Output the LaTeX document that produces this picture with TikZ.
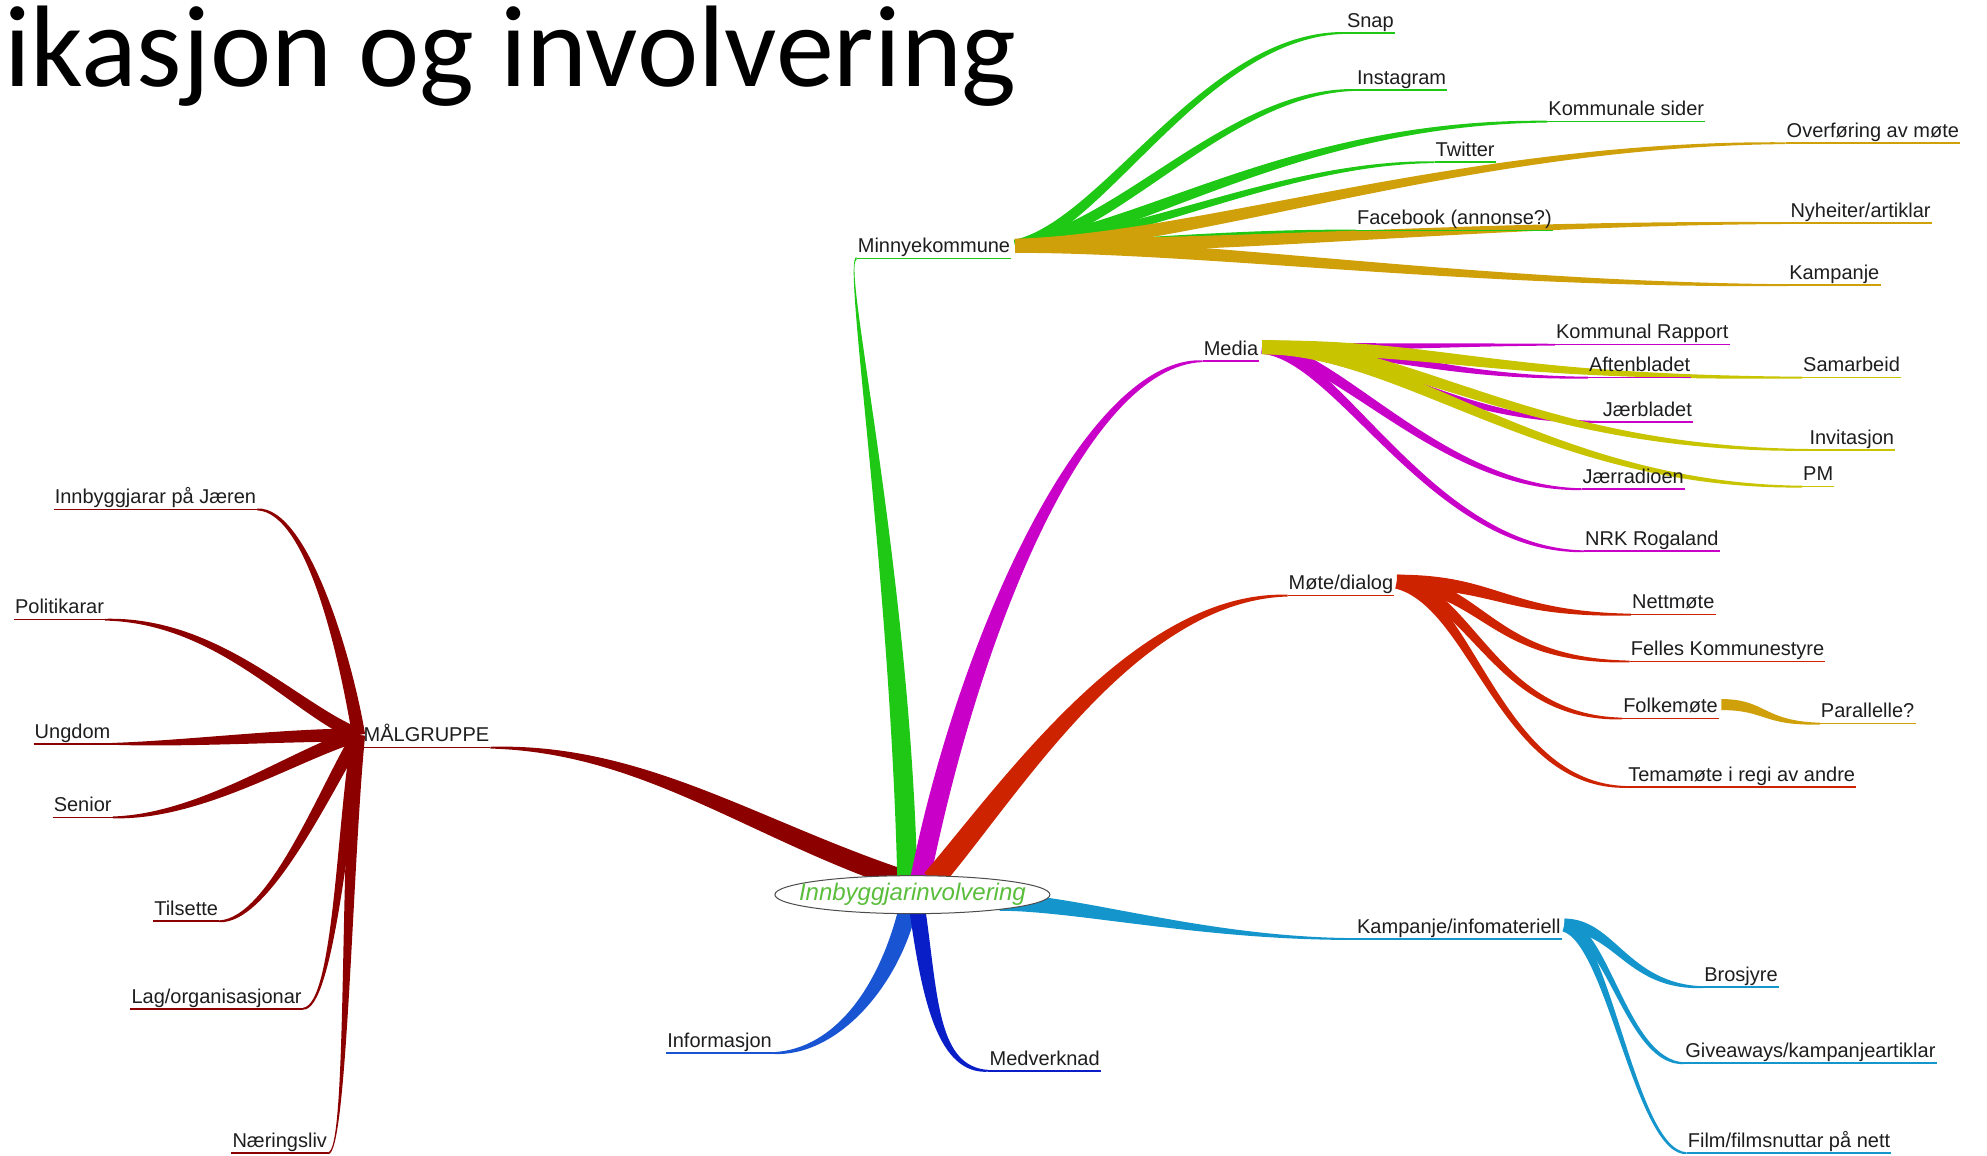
\documentclass[tikz,border=0pt]{standalone}
\usepackage{fontspec}
\setmainfont{Liberation Sans}
\newfontfamily\titlefont{Carlito}
\usetikzlibrary{calc,shapes.geometric,backgrounds}
\definecolor{cgreen}{RGB}{30,200,20}
\definecolor{cgold}{RGB}{208,160,10}
\definecolor{cmag}{RGB}{200,0,200}
\definecolor{colive}{RGB}{200,196,0}
\definecolor{cred}{RGB}{205,35,0}
\definecolor{ccyan}{RGB}{20,150,205}
\definecolor{cblue}{RGB}{25,85,210}
\definecolor{cdblue}{RGB}{10,30,200}
\definecolor{cdred}{RGB}{140,0,0}
\definecolor{ctxtgreen}{RGB}{90,190,60}
\definecolor{ctext}{RGB}{30,30,30}
% tapered branch: #1 P0, #2 offset of P1 from P0, #3 offset of P2 from P3, #4 P3,
% #5 half width at P0/P1, #6 half width at P2, #7 half width at P3, #8 colour
\newcommand\tb[8]{%
 \coordinate (tP0) at (#1);
 \coordinate (tP1) at ($(tP0)+(#2)$);
 \coordinate (tP3) at (#4);
 \coordinate (tP2) at ($(tP3)+(#3)$);
 \coordinate (tA0) at ($(tP0)!#5!90:(tP1)$);
 \coordinate (tB0) at ($(tP0)!#5!-90:(tP1)$);
 \coordinate (tA2) at ($(tP3)!#6!-90:(tP2)$);
 \coordinate (tB2) at ($(tP3)!#6!90:(tP2)$);
 \coordinate (tA3) at ($(tP3)!#7!-90:(tP2)$);
 \coordinate (tB3) at ($(tP3)!#7!90:(tP2)$);
 \fill[#8] (tA0) .. controls ($(tP1)+(tA0)-(tP0)$) and ($(tP2)+(tA2)-(tP3)$) .. (tA3) -- (tB3) .. controls ($(tP2)+(tB2)-(tP3)$) and ($(tP1)+(tB0)-(tP0)$) .. (tB0) -- cycle;
}
\newcommand\ul[2]{\draw[#2, line width=1.6pt] (#1.south west) -- (#1.south east);}
\begin{document}
\begin{tikzpicture}[x=1.2672pt,y=-1.2672pt,
  lbl/.style={font=\fontsize{20}{24}\selectfont, text=ctext, inner xsep=1pt, inner ysep=0.5pt, text height=14.5pt, text depth=5pt},
  lblr/.style={lbl, anchor=south west},
  lbll/.style={lbl, anchor=south east}]
\useasboundingbox (0,0) rectangle (1568,912);

% title
\node[anchor=base west, inner sep=0, font=\titlefont\fontsize{116}{130}\selectfont] (title) at (3,68) {ikasjon og involvering};

% centre
\node[ellipse, draw=black!70, line width=1pt, fill=white, minimum width=275pt, minimum height=38pt, inner sep=0] (cen) at (720,706) {};
\node[font=\itshape\fontsize{24}{28}\selectfont, text=ctxtgreen, inner sep=0] (centxt) at (cen.center) {Innbyggjarinvolvering};

% labels, right facing
\node[lblr] (mink) at (676,204) {Minnyekommune};
\node[lblr] (snap) at (1062,26) {Snap};
\node[lblr] (insta) at (1070,71) {Instagram};
\node[lblr] (komm) at (1221,96) {Kommunale sider};
\node[lblr] (twit) at (1132,128) {Twitter};
\node[lblr] (fb) at (1070,182) {Facebook (annonse?)};
\node[lblr] (overf) at (1409,113) {Overføring av møte};
\node[lblr] (nyh) at (1412,176) {Nyheiter/artiklar};
\node[lblr] (kampj) at (1411,225) {Kampanje};
\node[lblr] (media) at (949,285) {Media};
\node[lblr] (krap) at (1227,272) {Kommunal Rapport};
\node[lblr] (aft) at (1253,298) {Aftenbladet};
\node[lblr] (jaerb) at (1264,333) {Jærbladet};
\node[lblr] (jrad) at (1248,386) {Jærradioen};
\node[lblr] (nrk) at (1250,435) {NRK Rogaland};
\node[lblr] (sam) at (1422,298) {Samarbeid};
\node[lblr] (inv) at (1427,355) {Invitasjon};
\node[lblr] (pm) at (1422,384) {PM};
\node[lblr] (mote) at (1016,470) {Møte/dialog};
\node[lblr] (nett) at (1287,485) {Nettmøte};
\node[lblr] (fell) at (1286,522) {Felles Kommunestyre};
\node[lblr] (folk) at (1280,567) {Folkemøte};
\node[lblr] (tema) at (1284,621) {Temamøte i regi av andre};
\node[lblr] (par) at (1436,571) {Parallelle?};
\node[lblr] (kamp) at (1070,741) {Kampanje/infomateriell};
\node[lblr] (bros) at (1344,779) {Brosjyre};
\node[lblr] (give) at (1329,839) {Giveaways/kampanjeartiklar};
\node[lblr] (film) at (1331,910) {Film/filmsnuttar på nett};
\node[lblr] (medv) at (780,845) {Medverknad};
\node[lblr] (malg) at (286,590) {MÅLGRUPPE};
% labels, left facing
\node[lbll] (info) at (610,831) {Informasjon};
\node[lbll] (innb) at (203,402) {Innbyggjarar på Jæren};
\node[lbll] (polit) at (83,489) {Politikarar};
\node[lbll] (ungd) at (88,587) {Ungdom};
\node[lbll] (senior) at (89,645) {Senior};
\node[lbll] (tils) at (173,727) {Tilsette};
\node[lbll] (lag) at (239,796) {Lag/organisasjonar};
\node[lbll] (naer) at (259,910) {Næringsliv};

% hubs
\coordinate (hubM) at ($(mink.south east)+(3,-10)$);
\coordinate (hubMe) at ($(media.south east)+(2,-11)$);
\coordinate (hubR) at ($(mote.south east)+(2,-11)$);
\coordinate (hubF) at ($(folk.south east)+(2,-11)$);
\coordinate (hubK) at ($(kamp.south east)+(2,-11)$);
\coordinate (hubG) at ($(malg.south west)+(-3,-10)$);

\begin{pgfonlayer}{background}
\fill[white] (0,0) rectangle (1568,912);
% main branches
\tb{$(cen.north)+(-6,4)$}{-120,-40}{120,0}{malg.south east}{10pt}{5pt}{0.9pt}{cdred}
\tb{$(cen.north)+(-4,4)$}{-6,-250}{-12,0}{mink.south west}{10pt}{5.5pt}{1.2pt}{cgreen}
\tb{$(cen.north)+(6,4)$}{40,-200}{-90,0}{media.south west}{10pt}{5pt}{0.9pt}{cmag}
\tb{$(cen.north)+(16,4)$}{60,-70}{-120,0}{mote.south west}{11pt}{5.5pt}{0.9pt}{cred}
\tb{$(cen.east)+(-40,6)$}{60,0}{-120,0}{kamp.south west}{8.5pt}{1.5pt}{0.9pt}{ccyan}
\tb{$(cen.south)+(-4,-3)$}{-15,60}{50,0}{info.south east}{9pt}{4pt}{0.9pt}{cblue}
\tb{$(cen.south)+(4,-3)$}{10,70}{-40,0}{medv.south west}{8pt}{4pt}{0.9pt}{cdblue}

% Minnyekommune children
\tb{hubM}{70,-15}{-110,0}{snap.south west}{6pt}{3.5pt}{0.9pt}{cgreen}
\tb{hubM}{80,-10}{-100,0}{insta.south west}{6pt}{3.5pt}{0.9pt}{cgreen}
\tb{hubM}{100,-10}{-200,0}{komm.south west}{6.5pt}{3.5pt}{0.9pt}{cgreen}
\tb{hubM}{100,-5}{-120,0}{twit.south west}{5pt}{2.5pt}{0.9pt}{cgreen}
\tb{hubM}{80,0}{-100,0}{fb.south west}{4pt}{2pt}{0.9pt}{cgreen}
\tb{hubM}{150,-5}{-250,0}{overf.south west}{7pt}{3.5pt}{0.9pt}{cgold}
\tb{hubM}{200,0}{-250,0}{nyh.south west}{7pt}{3pt}{0.9pt}{cgold}
\tb{hubM}{150,0}{-250,0}{kampj.south west}{7pt}{3.5pt}{0.9pt}{cgold}

% Media children
\tb{hubMe}{80,0}{-80,0}{krap.south west}{4pt}{1.5pt}{0.9pt}{cmag}
\tb{hubMe}{100,0}{-120,0}{aft.south west}{5.5pt}{2.5pt}{0.9pt}{cmag}
\tb{hubMe}{80,0}{-120,0}{jaerb.south west}{6.5pt}{3.5pt}{0.9pt}{cmag}
\tb{hubMe}{60,5}{-110,0}{jrad.south west}{6.5pt}{3.5pt}{0.9pt}{cmag}
\tb{hubMe}{60,5}{-120,0}{nrk.south west}{6.5pt}{3.5pt}{0.9pt}{cmag}
\tb{hubMe}{150,0}{-250,0}{sam.south west}{7pt}{3.5pt}{0.9pt}{colive}
\tb{hubMe}{120,0}{-220,0}{inv.south west}{7pt}{3.5pt}{0.9pt}{colive}
\tb{hubMe}{110,0}{-200,0}{pm.south west}{7pt}{3.5pt}{0.9pt}{colive}

% Mote/dialog children
\tb{hubR}{80,0}{-100,0}{nett.south west}{7pt}{3.5pt}{0.9pt}{cred}
\tb{hubR}{70,5}{-110,0}{fell.south west}{7pt}{3.5pt}{0.9pt}{cred}
\tb{hubR}{60,10}{-100,0}{folk.south west}{7pt}{3.5pt}{0.9pt}{cred}
\tb{hubR}{60,15}{-100,0}{tema.south west}{7pt}{3.5pt}{0.9pt}{cred}
\tb{hubF}{35,0}{-45,0}{par.south west}{5.5pt}{2.5pt}{0.9pt}{cgold}

% Kampanje/infomateriell children
\tb{hubK}{40,0}{-60,0}{bros.south west}{6.5pt}{3.5pt}{0.9pt}{ccyan}
\tb{hubK}{35,5}{-45,0}{give.south west}{6.5pt}{3.5pt}{0.9pt}{ccyan}
\tb{hubK}{35,10}{-40,0}{film.south west}{6.5pt}{3.5pt}{0.9pt}{ccyan}

% MALGRUPPE children
\tb{hubG}{-10,-60}{40,0}{innb.south east}{6.5pt}{3.5pt}{0.9pt}{cdred}
\tb{hubG}{-50,-20}{90,0}{polit.south east}{6.5pt}{3.5pt}{0.9pt}{cdred}
\tb{hubG}{-60,0}{60,0}{ungd.south east}{6.5pt}{3.5pt}{0.9pt}{cdred}
\tb{hubG}{-50,15}{70,0}{senior.south east}{6.5pt}{3.5pt}{0.9pt}{cdred}
\tb{hubG}{-25,40}{40,0}{tils.south east}{6.5pt}{3.5pt}{0.9pt}{cdred}
\tb{hubG}{-12,60}{25,0}{lag.south east}{6.5pt}{3.5pt}{0.9pt}{cdred}
\tb{hubG}{-10,100}{15,0}{naer.south east}{6.5pt}{3.5pt}{0.9pt}{cdred}

% underlines
\ul{mink}{cgreen}\ul{snap}{cgreen}\ul{insta}{cgreen}\ul{komm}{cgreen}\ul{twit}{cgreen}\ul{fb}{cgreen}
\ul{overf}{cgold}\ul{nyh}{cgold}\ul{kampj}{cgold}
\ul{media}{cmag}\ul{krap}{cmag}\ul{aft}{cmag}\ul{jaerb}{cmag}\ul{jrad}{cmag}\ul{nrk}{cmag}
\ul{sam}{colive}\ul{inv}{colive}\ul{pm}{colive}
\ul{mote}{cred}\ul{nett}{cred}\ul{fell}{cred}\ul{folk}{cred}\ul{tema}{cred}\ul{par}{cgold}
\ul{kamp}{ccyan}\ul{bros}{ccyan}\ul{give}{ccyan}\ul{film}{ccyan}
\ul{info}{cblue}\ul{medv}{cdblue}
\ul{malg}{cdred}\ul{innb}{cdred}\ul{polit}{cdred}\ul{ungd}{cdred}\ul{senior}{cdred}\ul{tils}{cdred}\ul{lag}{cdred}\ul{naer}{cdred}
\end{pgfonlayer}
\end{tikzpicture}
\end{document}
